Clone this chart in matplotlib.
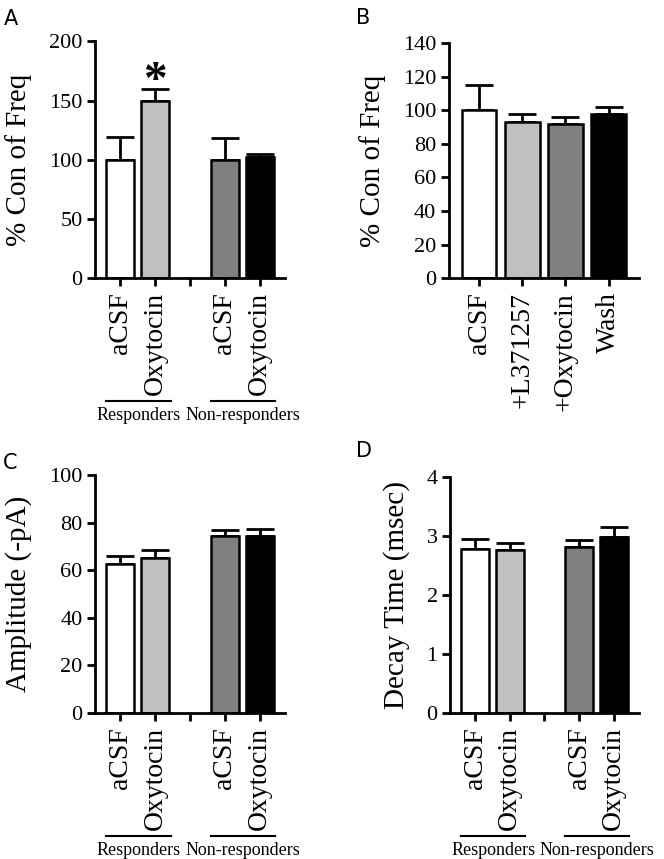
import matplotlib
matplotlib.use('Agg')
import matplotlib.pyplot as plt
import matplotlib.transforms as mtransforms

plt.rcParams['font.family'] = 'Liberation Serif'

#data
grp_labels = ['aCSF', 'Oxytocin', 'aCSF', 'Oxytocin']
grp_colors = ['white', '#c0c0c0', '#808080', 'black']
grp_pos = [0, 1, 3, 4]

freq_A = [100, 150, 100, 102]
freq_A_err = [19, 10, 18, 3]

B_labels = ['aCSF', '+L371257', '+Oxytocin', 'Wash']
freq_B = [100, 93, 92, 98]
freq_B_err = [15, 5, 4, 4]

amp_C = [62.5, 65, 74.5, 74.5]
amp_C_err = [3.5, 3.5, 2.5, 3]

decay_D = [2.78, 2.76, 2.81, 2.98]
decay_D_err = [0.17, 0.11, 0.12, 0.17]

fig = plt.figure(figsize=(6.64, 8.59), dpi=100)

def style_axes(ax):
    for s in ['top', 'right']:
        ax.spines[s].set_visible(False)
    ax.spines['left'].set_linewidth(2)
    ax.spines['bottom'].set_linewidth(2)
    ax.tick_params(axis='both', width=2, length=6, direction='out')
    ax.tick_params(axis='y', labelsize=16, pad=3)
    ax.tick_params(axis='x', labelsize=20, pad=4)

def draw_bars(ax, pos, vals, errs, colors):
    ax.bar(pos, vals, width=0.8, color=colors, edgecolor='black', linewidth=1.8, zorder=2)
    ax.errorbar(pos, vals, yerr=[[0]*len(errs), errs], fmt='none', ecolor='black',
                elinewidth=2, capsize=10, capthick=2, zorder=1)

def group_marks(ax):
    trans = mtransforms.blended_transform_factory(ax.transData, ax.transAxes)
    h = ax.get_position().height * fig.get_figheight() * 100
    yline = -123 / h
    ytext = -129 / h
    for x0, x1, name in [(-0.4, 1.45, 'Responders'), (2.6, 4.45, 'Non-responders')]:
        ax.plot([x0, x1], [yline, yline], color='black', lw=1.5, transform=trans, clip_on=False)
        ax.text((x0 + x1) / 2, ytext, name, transform=trans, ha='center', va='top', fontsize=13)

def panel_letter(x_px, y_px, letter):
    # letter placed by its top-left corner, in pixels from the top-left of the figure
    fig.text(x_px / 664, 1 - y_px / 859, letter, fontsize=15, family='DejaVu Sans',
             ha='left', va='top')

def grouped_panel(rect, vals, errs, ylim, yticks, ylabel):
    ax = fig.add_axes(rect)
    draw_bars(ax, grp_pos, vals, errs, grp_colors)
    ax.set_xlim(-0.72, 4.72)
    ax.set_ylim(*ylim)
    ax.set_yticks(yticks)
    ax.set_xticks([0, 1, 2, 3, 4])
    ax.set_xticklabels(['aCSF', 'Oxytocin', '', 'aCSF', 'Oxytocin'], rotation=90)
    ax.set_ylabel(ylabel, fontsize=21, labelpad=12)
    style_axes(ax)
    group_marks(ax)
    return ax

axA = grouped_panel([0.143, 0.676, 0.286, 0.276], freq_A, freq_A_err, (0, 200),
                    [0, 50, 100, 150, 200], '% Con of Freq')
axA.text(1, 148, '*', ha='center', va='bottom', fontsize=34, fontweight='bold')

# panel B - four conditions, no gap
axB = fig.add_axes([0.676, 0.676, 0.286, 0.274])
draw_bars(axB, [0, 1, 2, 3], freq_B, freq_B_err, grp_colors)
axB.set_xlim(-0.7, 3.7)
axB.set_ylim(0, 140)
axB.set_yticks(range(0, 141, 20))
axB.set_xticks([0, 1, 2, 3])
axB.set_xticklabels(B_labels, rotation=90)
axB.set_ylabel('% Con of Freq', fontsize=21, labelpad=12)
style_axes(axB)

grouped_panel([0.143, 0.170, 0.286, 0.277], amp_C, amp_C_err, (0, 100),
              [0, 20, 40, 60, 80, 100], 'Amplitude (-pA)')
grouped_panel([0.678, 0.170, 0.284, 0.275], decay_D, decay_D_err, (0, 4),
              [0, 1, 2, 3, 4], 'Decay Time (msec)')

panel_letter(4, 9, 'A')
panel_letter(356, 8, 'B')
panel_letter(3, 453, 'C')
panel_letter(356, 441, 'D')

fig.savefig('out.png', dpi=100)
